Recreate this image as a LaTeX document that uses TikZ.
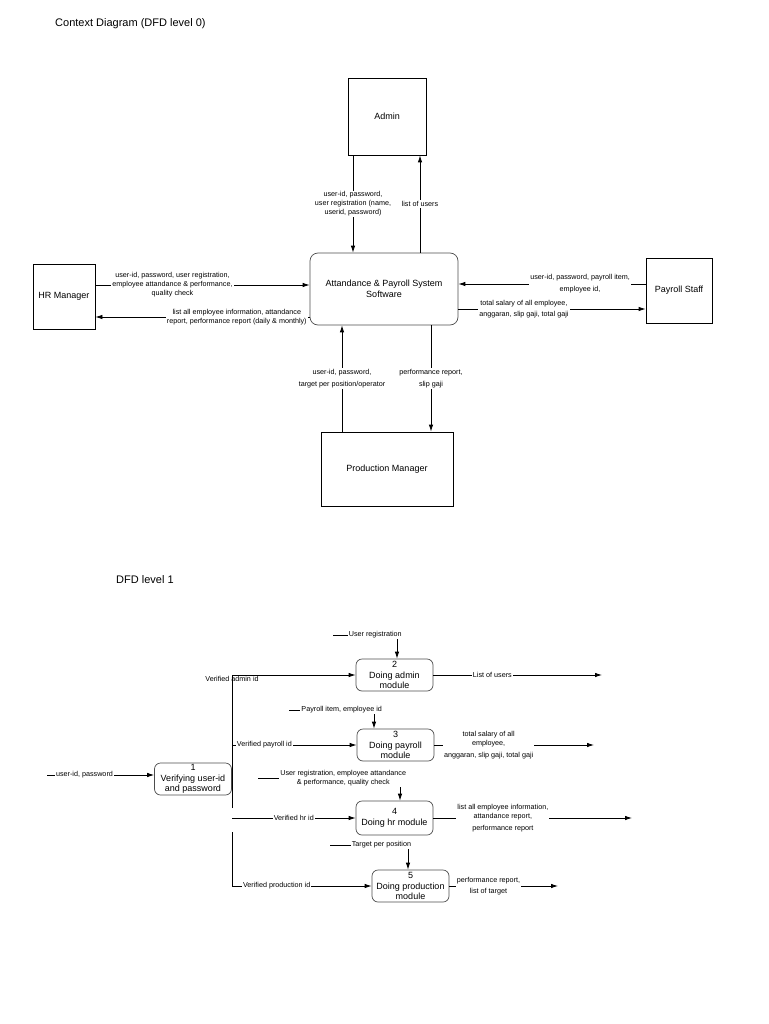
\documentclass[tikz,border=0pt]{standalone}
\usepackage{fontspec}
\setmainfont{Liberation Sans}
\usetikzlibrary{shapes,arrows.meta}

\begin{document}
\begin{tikzpicture}[x=1pt,y=-1pt]
\tikzset{every node/.style={font=\fontsize{9}{11}\selectfont}}
\tikzset{entity/.style={draw,line width=0.8pt,align=center,inner sep=0pt}}
\tikzset{system/.style={draw=black!70,line width=0.7pt,rounded corners=8pt,align=center,inner sep=0pt}}
\tikzset{process/.style={draw=black!70,line width=0.7pt,rounded corners=6pt,align=center,inner sep=0pt,minimum width=77pt,minimum height=32pt,font=\fontsize{9}{10.5}\selectfont}}
\tikzset{flow/.style={-{Latex[length=7pt,width=4.5pt]},line width=0.8pt}}
\tikzset{lbl/.style={fill=white,inner sep=1pt,align=center,font=\fontsize{7.2}{9}\selectfont}}
\tikzset{heading/.style={anchor=west,inner sep=0pt,font=\fontsize{11}{13}\selectfont}}
\useasboundingbox (0,0) rectangle (768,1024);

% context diagram
\node[heading] (title0) at (55,24) {Context Diagram (DFD level 0)};
\node[entity,minimum width=78pt,minimum height=77pt] (admin) at (387,116.5) {Admin};
\node[system,minimum width=148pt,minimum height=72pt] (sys) at (384,289) {Attandance \& Payroll System\\Software};
\node[entity,minimum width=62pt,minimum height=65pt] (hr) at (64,296.5) {HR Manager};
\node[entity,minimum width=66pt,minimum height=65pt] (pstaff) at (679,290.5) {Payroll Staff};
\node[entity,minimum width=132pt,minimum height=74pt] (prod) at (387,469) {Production Manager};

\draw[flow] ([xshift=-34pt]admin.south) -- node[lbl]{user-id, password,\\user registration (name,\\userid, password)} ([xshift=-34pt]admin.south |- sys.north);
\draw[flow] ([xshift=33pt]admin.south |- sys.north) -- node[lbl]{list of users} ([xshift=33pt]admin.south);
\draw[flow] ([yshift=11.5pt]hr.east) -- node[lbl,pos=0.36]{user-id, password, user registration,\\employee attandance \& performance,\\quality check} ([yshift=11.5pt]hr.east -| sys.west);
\draw[flow] ([yshift=-20.5pt]hr.east -| sys.west) -- node[lbl,pos=0.34]{list all employee information, attandance\\report, performance report (daily \& monthly)} ([yshift=-20.5pt]hr.east);
\draw[flow] ([yshift=6.5pt]pstaff.west) -- node[lbl,pos=0.35]{user-id, password, payroll item,\\[3pt]employee id,} ([yshift=6.5pt]pstaff.west -| sys.east);
\draw[flow] ([yshift=-18.5pt]pstaff.west -| sys.east) -- node[lbl,pos=0.35]{total salary of all employee,\\[2.5pt]anggaran, slip gaji, total gaji} ([yshift=-18.5pt]pstaff.west);
\draw[flow] ([xshift=-45pt]prod.north) -- node[lbl]{user-id, password,\\[3pt]target per position/operator} ([xshift=-45pt]prod.north |- sys.south);
\draw[flow] ([xshift=44pt]prod.north |- sys.south) -- node[lbl]{performance report,\\[3pt]slip gaji} ([xshift=44pt]prod.north);

% DFD level 1
\node[heading] (title1) at (116,580) {DFD level 1};
\node[process] (p1) at (193,779) {1\\Verifying user-id\\and password};
\node[process] (p2) at (394.5,675) {2\\Doing admin\\module};
\node[process] (p3) at (395.5,745) {3\\Doing payroll\\module};
\node[process,minimum height=34pt] (p4) at (394.5,818) {4\\Doing hr module};
\node[process] (p5) at (410.5,886) {5\\Doing production\\module};

\coordinate (in1) at (47,775);
\coordinate (in2) at (333,635);
\coordinate (in3) at (289,710);
\coordinate (in4) at (258,778);
\coordinate (in5) at (330,845);
\coordinate (b1) at (232,808);
\coordinate (b2) at (232,832);
\coordinate (out2) at (602,0);
\coordinate (out3) at (594,0);
\coordinate (out4) at (632,0);
\coordinate (out5) at (558,0);

\draw[flow] (in1) -- node[lbl,pos=0.35]{user-id, password} (in1 -| p1.west);
\draw[flow] (b1) -- (b1 |- p2.west) node[lbl,fill=none,below]{Verified admin id} -- (p2.west);
\draw[flow] (b1 |- p3.west) -- node[lbl,pos=0.26]{Verified payroll id} (p3.west);
\draw[flow] (b1 |- p4.west) -- node[lbl,pos=0.5]{Verified hr id} (p4.west);
\draw[flow] (b2) |- node[lbl,pos=0.66]{Verified production id} (p5.west);

\draw[flow] (in2) -| node[lbl,pos=0.33]{User registration} ([xshift=2.5pt]p2.north);
\draw[flow] (in3) -| node[lbl,pos=0.31]{Payroll item, employee id} ([xshift=-21.5pt]p3.north);
\draw[flow] (in4) -| node[lbl,pos=0.3]{User registration, employee attandance\\\& performance, quality check} ([xshift=5.5pt]p4.north);
\draw[flow] (in5) -| node[lbl,pos=0.33]{Target per position} ([xshift=-2.5pt]p5.north);

\draw[flow] (p2.east) -- node[lbl,pos=0.35]{List of users} (p2.east -| out2);
\draw[flow] (p3.east) -- node[lbl,pos=0.34]{total salary of all\\employee,\\[2.5pt]anggaran, slip gaji, total gaji} (p3.east -| out3);
\draw[flow] (p4.east) -- node[lbl,pos=0.35]{list all employee information,\\attandance report,\\[3pt]performance report} (p4.east -| out4);
\draw[flow] (p5.east) -- node[lbl,pos=0.36]{performance report,\\[2pt]list of target} (p5.east -| out5);
\end{tikzpicture}
\end{document}
